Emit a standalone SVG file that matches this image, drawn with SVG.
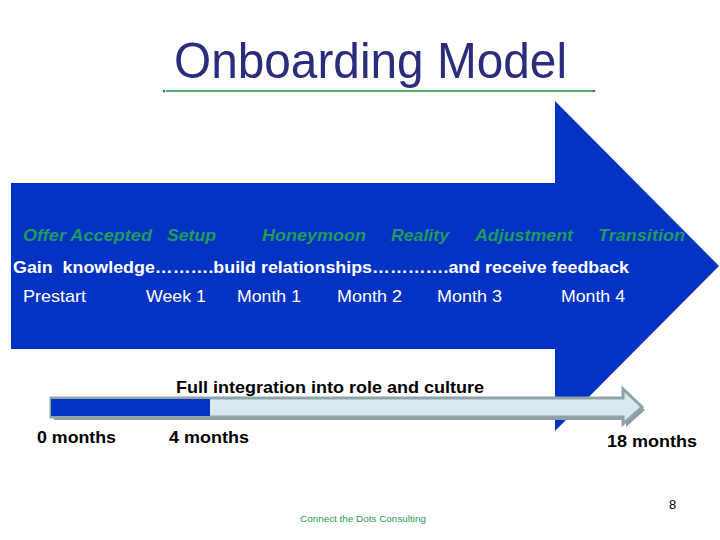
<svg xmlns="http://www.w3.org/2000/svg" width="720" height="540" viewBox="0 0 720 540">
<style>
.t{font-family:"Liberation Sans",Arial,sans-serif}
.ph{fill:#1f9a63;font-size:17px;font-weight:bold;font-style:italic}
.wb{fill:#fff;font-size:17px;font-weight:bold}
.wr{fill:#fff;font-size:17px}
.kb{fill:#000;font-size:17px;font-weight:bold}
</style>
<rect width="720" height="540" fill="#fff"/>
<g id="title">
<text class="t" x="174" y="78" font-size="50" fill="#2b2d7c" textLength="393" lengthAdjust="spacingAndGlyphs">Onboarding Model</text>
<line x1="166" y1="91" x2="594" y2="91" stroke="#5aaf6a" stroke-width="2"/>
<circle cx="164" cy="91" r="1.3" fill="#3a6a8a"/>
<circle cx="594" cy="91" r="1.3" fill="#3a6a8a"/>
</g>
<g id="big-arrow">
<polygon points="11,183 555,183 555,101 719,266 555,431 555,349 11,349" fill="#0433c4"/>
</g>
<g id="phases">
<text class="t ph" x="23" y="241" textLength="129" lengthAdjust="spacingAndGlyphs">Offer Accepted</text>
<text class="t ph" x="167" y="241" textLength="49" lengthAdjust="spacingAndGlyphs">Setup</text>
<text class="t ph" x="262" y="241" textLength="104" lengthAdjust="spacingAndGlyphs">Honeymoon</text>
<text class="t ph" x="391" y="241" textLength="58" lengthAdjust="spacingAndGlyphs">Reality</text>
<text class="t ph" x="475" y="241" textLength="98" lengthAdjust="spacingAndGlyphs">Adjustment</text>
<text class="t ph" x="598" y="241" textLength="87" lengthAdjust="spacingAndGlyphs">Transition</text>
</g>
<g id="tagline">
<text class="t wb" x="13" y="273" xml:space="preserve" textLength="616" lengthAdjust="spacingAndGlyphs">Gain  knowledge……….build relationships………….and receive feedback</text>
</g>
<g id="times">
<text class="t wr" x="23" y="302" textLength="63" lengthAdjust="spacingAndGlyphs">Prestart</text>
<text class="t wr" x="146" y="302" textLength="60" lengthAdjust="spacingAndGlyphs">Week 1</text>
<text class="t wr" x="237" y="302" textLength="64" lengthAdjust="spacingAndGlyphs">Month 1</text>
<text class="t wr" x="337" y="302" textLength="65" lengthAdjust="spacingAndGlyphs">Month 2</text>
<text class="t wr" x="437" y="302" textLength="65" lengthAdjust="spacingAndGlyphs">Month 3</text>
<text class="t wr" x="561" y="302" textLength="64" lengthAdjust="spacingAndGlyphs">Month 4</text>
</g>
<g id="timeline">
<polygon points="54,401 626,401 626,392 645,410 626,427 626,420 54,420" fill="#8a9ea4"/>
<polygon points="51,398 623,398 623,389 642,407 623,424 623,417 51,417" fill="#d8eaf0" stroke="#8fa3a8" stroke-width="3" stroke-linejoin="miter"/>
<rect x="51" y="399" width="159" height="17" fill="#0433c4"/>
<text class="t kb" x="176" y="393" textLength="308" lengthAdjust="spacingAndGlyphs">Full integration into role and culture</text>
<text class="t kb" x="37" y="443" textLength="79" lengthAdjust="spacingAndGlyphs">0 months</text>
<text class="t kb" x="169" y="443" textLength="80" lengthAdjust="spacingAndGlyphs">4 months</text>
<text class="t kb" x="607" y="447" textLength="90" lengthAdjust="spacingAndGlyphs">18 months</text>
</g>
<g id="footer">
<text class="t" x="669" y="509" font-size="13" fill="#000">8</text>
<text class="t" x="300" y="522" font-size="9" fill="#2a9a5a" textLength="126" lengthAdjust="spacingAndGlyphs">Connect the Dots Consulting</text>
</g>
</svg>
